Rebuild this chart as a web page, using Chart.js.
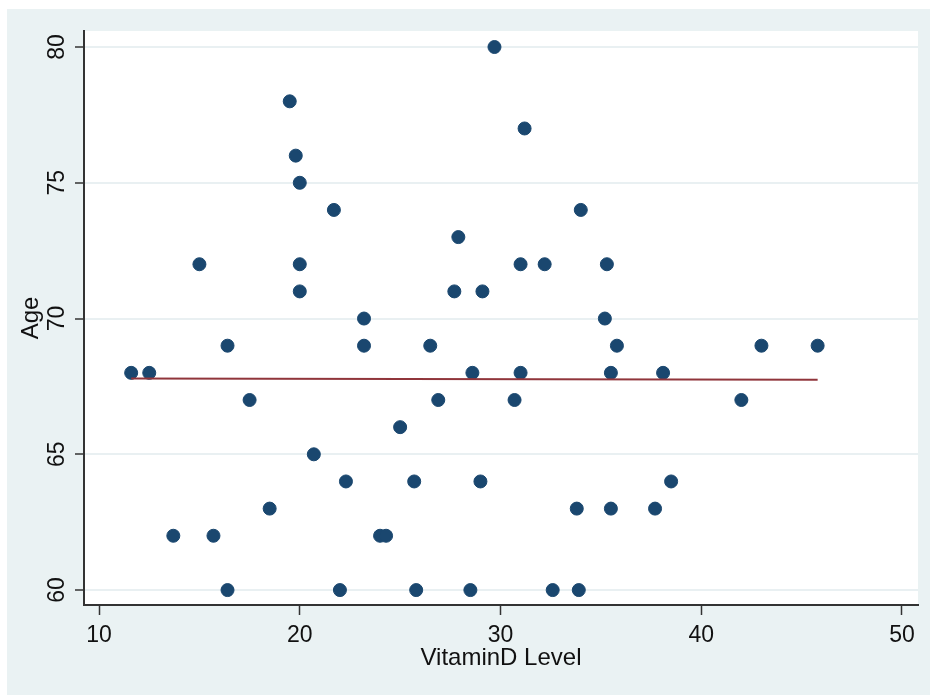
<!DOCTYPE html>
<html>
<head>
<meta charset="utf-8">
<script src="https://cdn.jsdelivr.net/npm/chart.js@4.4.1/dist/chart.umd.min.js"></script>
<style>
  html, body { margin: 0; padding: 0; background: #ffffff; }
  #c { display: block; }
</style>
</head>
<body>
<canvas id="c" width="930" height="695"></canvas>
<script>
// ---- data ----
const vitaminD = [11.6, 12.5, 13.7, 15.0, 15.7, 16.4, 16.4, 17.5, 18.5, 19.5, 19.8, 20.0, 20.0, 20.0, 20.7, 21.7, 22.0, 22.3, 23.2, 23.2, 24.0, 24.3, 25.0, 25.7, 25.8, 26.5, 26.9, 27.7, 27.9, 28.5, 28.6, 29.0, 29.1, 29.7, 30.7, 31.0, 31.0, 31.2, 32.2, 32.6, 33.8, 33.9, 34.0, 35.2, 35.3, 35.5, 35.5, 35.8, 37.7, 38.1, 38.5, 42.0, 43.0, 45.8];
const age = [68, 68, 62, 72, 62, 69, 60, 67, 63, 78, 76, 75, 72, 71, 65, 74, 60, 64, 70, 69, 62, 62, 66, 64, 60, 69, 67, 71, 73, 60, 68, 64, 71, 80, 67, 72, 68, 77, 72, 60, 63, 60, 74, 70, 72, 68, 63, 69, 63, 68, 64, 67, 69, 69];
const fitX = [11.6, 45.8];
const fitY = [67.79, 67.75];
const xTicks = [10, 20, 30, 40, 50];
const yTicks = [60, 65, 70, 75, 80];
const xTitle = 'VitaminD Level';
const yTitle = 'Age';

const scatterPoints = vitaminD.map((v, i) => ({ x: v, y: age[i] }));
const fitPoints = fitX.map((v, i) => ({ x: v, y: fitY[i] }));

const FONT = "'Liberation Sans', Arial, sans-serif";
const TXT = '#111111';

const bgPlugin = {
  id: 'bg',
  beforeDraw(chart) {
    const { ctx, chartArea: a, width, height } = chart;
    ctx.save();
    ctx.fillStyle = '#ffffff';
    ctx.fillRect(0, 0, width, height);
    ctx.fillStyle = '#eaf2f3';
    ctx.fillRect(7, 9, width - 7, height - 9);
    ctx.fillStyle = '#ffffff';
    ctx.fillRect(a.left, a.top, a.right - a.left, a.bottom - a.top);
    ctx.restore();
  }
};

new Chart(document.getElementById('c'), {
  type: 'scatter',
  data: {
    datasets: [
      {
        type: 'scatter',
        data: scatterPoints,
        pointRadius: 6.5,
        pointBackgroundColor: '#1a476f',
        pointBorderColor: '#1a476f',
        pointBorderWidth: 1,
        order: 2
      },
      {
        type: 'line',
        data: fitPoints,
        borderColor: '#90353b',
        borderWidth: 2,
        pointRadius: 0,
        fill: false,
        tension: 0,
        order: 1
      }
    ]
  },
  options: {
    responsive: false,
    animation: false,
    events: [],
    layout: { padding: { left: 0, top: 31, right: 12, bottom: 0 } },
    plugins: { legend: { display: false }, tooltip: { enabled: false } },
    scales: {
      x: {
        type: 'linear',
        min: 9.25,
        max: 50.8,
        afterBuildTicks: s => { s.ticks = xTicks.map(v => ({ value: v })); },
        afterFit: s => { s.height = 90; },
        grid: { drawOnChartArea: false, drawTicks: true, tickLength: 10, tickColor: '#333333', tickWidth: 1.5 },
        border: { display: true, color: '#333333', width: 2 },
        ticks: { color: TXT, font: { family: FONT, size: 23 }, padding: 7, maxRotation: 0, autoSkip: false },
        title: { display: true, text: xTitle, color: TXT, font: { family: FONT, size: 24 }, padding: { top: 0, bottom: 22 } }
      },
      y: {
        type: 'linear',
        min: 59.45,
        max: 80.59,
        afterBuildTicks: s => { s.ticks = yTicks.map(v => ({ value: v })); },
        afterFit: s => { s.width = 84; },
        grid: { color: '#e9f0f2', lineWidth: 2, drawTicks: true, tickLength: 9, tickColor: '#333333', tickWidth: 1.5 },
        border: { display: true, color: '#333333', width: 2 },
        ticks: { color: TXT, font: { family: FONT, size: 23 }, padding: 5, minRotation: 90, maxRotation: 90, crossAlign: 'center', autoSkip: false },
        title: { display: true, text: yTitle, color: TXT, font: { family: FONT, size: 24 }, padding: { top: 17, bottom: 0 } }
      }
    }
  },
  plugins: [bgPlugin]
});
</script>
</body>
</html>
